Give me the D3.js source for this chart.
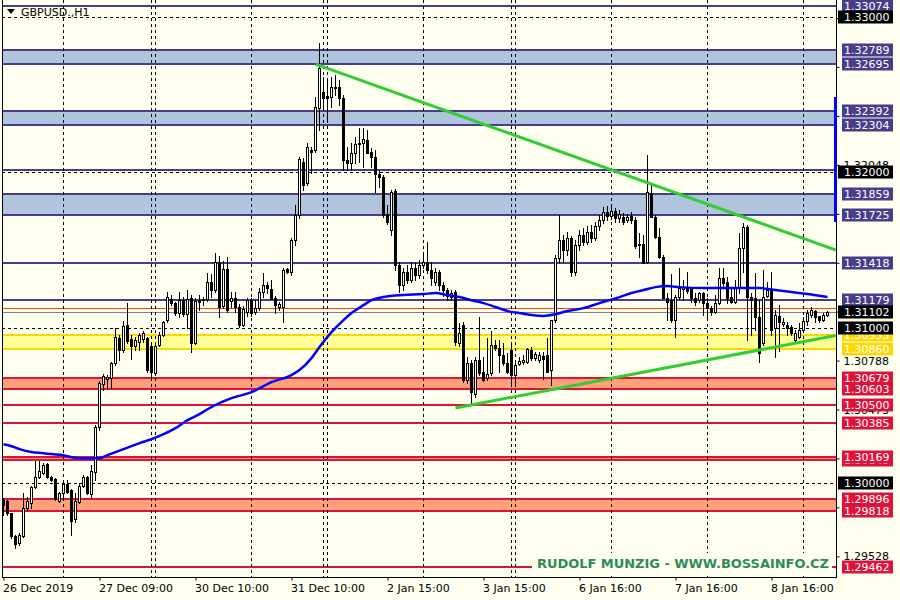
<!DOCTYPE html>
<html><head><meta charset="utf-8">
<script src="https://cdn.jsdelivr.net/npm/d3@7"></script>
<style>body{margin:0;background:#fffff0;} svg{display:block}</style>
</head><body><svg id="c" width="900" height="600"></svg>
<script>
// ---------------- DATA ----------------
const symbolTitle = "GBPUSD.,H1";
const watermark = "RUDOLF MUNZIG - WWW.BOSSAINFO.CZ";
const timeLabels = ["26 Dec 2019","27 Dec 09:00","30 Dec 10:00","31 Dec 10:00","2 Jan 15:00","3 Jan 15:00","6 Jan 16:00","7 Jan 16:00","8 Jan 16:00"];
const timeLabelIdx = [0,24,48,72,96,120,144,168,192];
const separatorIdx = [15,37,38,62,80,81,105,127,128,152,176,200];
const gridPrices = [1.33000,1.32000,1.31000,1.30000];
const axisPrices = [1.29528,1.29843,1.30158,1.30473,1.30788,1.31103,1.31418,1.31733,1.32048,1.32363,1.32678,1.32993];
const axisPricesShown = [1.29528,1.30158,1.30473,1.30788,1.32048];
const blueBands = [[1.32789,1.32695],[1.32392,1.32304],[1.31859,1.31725]];
const slateLines = [1.33074,1.32013,1.31418,1.31179];
const redBands = [[1.30679,1.30603],[1.30169,1.30149],[1.29896,1.29818]];
const redLines = [1.30500,1.30385,1.29462];
const yellowBands = [[1.30953,1.30860]];
const orangeLevel = 1.31125;
const bidPrice = 1.31102;
const rangeBar = [1.32485,1.31680];
const slateLabels = [1.33074,1.32789,1.32695,1.32392,1.32304,1.31859,1.31725,1.31418,1.31179];
const redLabels = [1.30679,1.30603,1.30500,1.30385,1.30149,1.30169,1.29896,1.29818,1.29462];
const goldLabels = [1.30953,1.30860];
const blackLabels = [1.33000,1.32000,1.31102,1.31000,1.30000];

const open = [1.29889,1.29883,1.29806,1.29658,1.29612,1.29658,1.29838,1.29870,1.29973,1.30038,1.30063,1.30121,1.30038,1.30025,1.29883,1.29935,1.29992,1.29954,1.29767,1.29877,1.29980,1.30038,1.29928,1.30070,1.30359,1.30637,1.30669,1.30675,1.30772,1.30933,1.30855,1.31016,1.30926,1.30881,1.30907,1.30926,1.30933,1.30881,1.30708,1.30888,1.30952,1.31049,1.31184,1.31158,1.31094,1.31177,1.31087,1.31191,1.30901,1.31177,1.31177,1.31184,1.31293,1.31242,1.31422,1.31139,1.31377,1.31171,1.31190,1.31133,1.31016,1.31100,1.31177,1.31100,1.31126,1.31229,1.31274,1.31248,1.31190,1.31133,1.31133,1.31377,1.31358,1.31564,1.31725,1.32066,1.31931,1.32143,1.32143,1.32414,1.32517,1.32491,1.32485,1.32549,1.32549,1.32478,1.32079,1.32060,1.32124,1.32182,1.32188,1.32208,1.32131,1.32098,1.31989,1.31970,1.31731,1.31628,1.31880,1.31403,1.31274,1.31358,1.31306,1.31384,1.31339,1.31403,1.31422,1.31371,1.31293,1.31358,1.31274,1.31242,1.31197,1.31229,1.30901,1.31016,1.30662,1.30772,1.30572,1.30791,1.30714,1.30675,1.30708,1.30888,1.30868,1.30823,1.30772,1.30855,1.30695,1.30765,1.30778,1.30778,1.30855,1.30804,1.30791,1.30817,1.30823,1.30727,1.31049,1.31448,1.31564,1.31499,1.31577,1.31358,1.31532,1.31596,1.31551,1.31615,1.31577,1.31654,1.31693,1.31744,1.31718,1.31750,1.31705,1.31712,1.31693,1.31718,1.31693,1.31538,1.31538,1.31422,1.31866,1.31712,1.31583,1.31454,1.31190,1.31177,1.31049,1.31197,1.31248,1.31261,1.31255,1.31190,1.31177,1.31223,1.31158,1.31126,1.31100,1.31158,1.31319,1.31293,1.31197,1.31165,1.31261,1.31512,1.31648,1.31197,1.31190,1.31068,1.30901,1.31203,1.31242,1.30997,1.31075,1.31023,1.31016,1.31004,1.30920,1.30939,1.30984,1.31042,1.31081,1.31107,1.31075,1.31049,1.31081];
const high = [1.29902,1.29889,1.29806,1.29664,1.29677,1.29935,1.29909,1.29980,1.30141,1.30141,1.30128,1.30128,1.30044,1.30031,1.29941,1.30018,1.30018,1.29960,1.29935,1.29999,1.30051,1.30044,1.30115,1.30372,1.30656,1.30701,1.30695,1.30778,1.30997,1.30952,1.31042,1.31158,1.30952,1.30939,1.30965,1.30978,1.30939,1.30888,1.30888,1.30971,1.31042,1.31229,1.31210,1.31165,1.31229,1.31197,1.31242,1.31210,1.31191,1.31210,1.31197,1.31351,1.31345,1.31480,1.31461,1.31429,1.31454,1.31229,1.31229,1.31152,1.31139,1.31190,1.31190,1.31177,1.31255,1.31351,1.31293,1.31306,1.31203,1.31165,1.31384,1.31384,1.31577,1.31789,1.32098,1.32092,1.32188,1.32162,1.32485,1.32832,1.32613,1.32594,1.32613,1.32626,1.32594,1.32498,1.32162,1.32188,1.32227,1.32285,1.32285,1.32272,1.32156,1.32143,1.32015,1.31983,1.31789,1.31886,1.31892,1.31422,1.31384,1.31403,1.31422,1.31416,1.31435,1.31467,1.31551,1.31422,1.31384,1.31371,1.31293,1.31255,1.31242,1.31242,1.31029,1.31036,1.30811,1.30791,1.30811,1.31068,1.30811,1.30933,1.30978,1.30920,1.30920,1.30901,1.30836,1.30888,1.30791,1.30811,1.30823,1.30868,1.30875,1.30843,1.30843,1.30843,1.30933,1.31049,1.31467,1.31725,1.31596,1.31615,1.31590,1.31564,1.31628,1.31641,1.31654,1.31660,1.31680,1.31725,1.31776,1.31783,1.31776,1.31770,1.31757,1.31738,1.31731,1.31744,1.31712,1.31609,1.31596,1.32111,1.31931,1.31725,1.31641,1.31467,1.31223,1.31345,1.31210,1.31384,1.31306,1.31358,1.31261,1.31223,1.31229,1.31229,1.31190,1.31139,1.31210,1.31384,1.31384,1.31326,1.31261,1.31306,1.31609,1.31673,1.31660,1.31223,1.31351,1.31177,1.31371,1.31293,1.31358,1.31113,1.31145,1.31062,1.31036,1.31016,1.30984,1.31029,1.31068,1.31113,1.31133,1.31113,1.31075,1.31094,1.31107];
const low = [1.29793,1.29793,1.29645,1.29580,1.29600,1.29651,1.29825,1.29838,1.29967,1.30031,1.30057,1.30031,1.30012,1.29889,1.29877,1.29889,1.29935,1.29664,1.29748,1.29870,1.29973,1.29928,1.29909,1.30018,1.30340,1.30598,1.30604,1.30611,1.30759,1.30791,1.30843,1.30900,1.30798,1.30855,1.30855,1.30907,1.30714,1.30682,1.30695,1.30881,1.30946,1.31036,1.31145,1.31081,1.31068,1.31075,1.30997,1.30843,1.30894,1.31113,1.31145,1.31171,1.31197,1.31229,1.31068,1.31126,1.31100,1.31133,1.31100,1.31004,1.31010,1.31075,1.31075,1.31087,1.31113,1.31197,1.31223,1.31190,1.31094,1.31113,1.31036,1.31351,1.31339,1.31532,1.31705,1.31886,1.31918,1.31996,1.32131,1.32272,1.32420,1.32337,1.32420,1.32498,1.32433,1.32015,1.32015,1.32015,1.32060,1.32066,1.32034,1.32137,1.32034,1.31873,1.31905,1.31712,1.31667,1.31596,1.31371,1.31229,1.31242,1.31287,1.31293,1.31306,1.31319,1.31384,1.31351,1.31274,1.31274,1.31242,1.31203,1.31177,1.31177,1.30888,1.30881,1.30650,1.30643,1.30514,1.30553,1.30695,1.30656,1.30662,1.30695,1.30855,1.30714,1.30759,1.30708,1.30643,1.30643,1.30759,1.30765,1.30772,1.30791,1.30791,1.30778,1.30669,1.30714,1.30630,1.31036,1.31422,1.31422,1.31467,1.31332,1.31339,1.31499,1.31532,1.31538,1.31551,1.31564,1.31628,1.31673,1.31693,1.31699,1.31680,1.31680,1.31667,1.31680,1.31673,1.31512,1.31454,1.31416,1.31416,1.31712,1.31577,1.31448,1.31190,1.31049,1.31036,1.30939,1.31184,1.31177,1.31223,1.31165,1.31145,1.31165,1.31081,1.31049,1.31081,1.31094,1.31152,1.31261,1.31158,1.31158,1.31158,1.31223,1.31358,1.30920,1.30952,1.30984,1.30778,1.30888,1.31197,1.30952,1.30811,1.30849,1.31010,1.30952,1.30952,1.30901,1.30933,1.30971,1.31016,1.31068,1.31036,1.31036,1.31042,1.31075];
const close = [1.29857,1.29806,1.29658,1.29606,1.29664,1.29838,1.29883,1.29973,1.30038,1.30076,1.30115,1.30038,1.30018,1.29896,1.29935,1.29992,1.29941,1.29754,1.29883,1.29980,1.30038,1.29935,1.30076,1.30359,1.30643,1.30688,1.30682,1.30772,1.30939,1.30855,1.31010,1.30913,1.30881,1.30920,1.30952,1.30965,1.30727,1.30714,1.30881,1.30952,1.31036,1.31197,1.31158,1.31094,1.31177,1.31087,1.31184,1.30901,1.31171,1.31165,1.31184,1.31293,1.31242,1.31422,1.31133,1.31377,1.31113,1.31190,1.31133,1.31016,1.31120,1.31177,1.31094,1.31126,1.31229,1.31274,1.31255,1.31184,1.31145,1.31152,1.31371,1.31358,1.31564,1.31725,1.32085,1.31918,1.32162,1.32131,1.32420,1.32672,1.32478,1.32478,1.32549,1.32543,1.32478,1.32079,1.32060,1.32124,1.32182,1.32188,1.32214,1.32124,1.32098,1.31989,1.31970,1.31725,1.31680,1.31873,1.31403,1.31274,1.31358,1.31306,1.31384,1.31339,1.31403,1.31422,1.31371,1.31319,1.31358,1.31274,1.31242,1.31203,1.31223,1.30907,1.30965,1.30662,1.30772,1.30584,1.30791,1.30708,1.30662,1.30701,1.30888,1.30868,1.30823,1.30772,1.30714,1.30695,1.30759,1.30785,1.30791,1.30862,1.30804,1.30830,1.30823,1.30798,1.30714,1.31049,1.31448,1.31564,1.31499,1.31577,1.31358,1.31532,1.31596,1.31551,1.31615,1.31577,1.31654,1.31693,1.31744,1.31718,1.31750,1.31705,1.31731,1.31680,1.31712,1.31693,1.31525,1.31532,1.31416,1.31873,1.31712,1.31583,1.31454,1.31190,1.31165,1.31049,1.31197,1.31255,1.31261,1.31235,1.31190,1.31165,1.31223,1.31158,1.31126,1.31100,1.31158,1.31319,1.31287,1.31190,1.31165,1.31261,1.31512,1.31648,1.31197,1.31177,1.31068,1.30836,1.31197,1.31242,1.30984,1.31081,1.31036,1.31036,1.30997,1.30965,1.30965,1.30984,1.31042,1.31094,1.31113,1.31068,1.31049,1.31081,1.31102];

const maIdx = [0,2,4,7,10,12,15,17,19,24,26,28,30,32,34,37,40,43,46,49,51,57,62,67,72,74,77,79,82,85,87,90,92,95,100,105,108,111,114,117,120,123,126,129,132,135,138,141,145,149,154,157,160,163,166,169,175,184,189,193,197,201,206];
const maVal = [1.30250,1.30237,1.30218,1.30199,1.30192,1.30186,1.30179,1.30166,1.30160,1.30160,1.30179,1.30199,1.30218,1.30237,1.30257,1.30282,1.30314,1.30353,1.30405,1.30443,1.30475,1.30546,1.30585,1.30649,1.30695,1.30727,1.30804,1.30875,1.30971,1.31049,1.31094,1.31145,1.31177,1.31197,1.31210,1.31216,1.31223,1.31210,1.31197,1.31177,1.31158,1.31133,1.31107,1.31094,1.31081,1.31075,1.31087,1.31107,1.31126,1.31158,1.31197,1.31223,1.31242,1.31261,1.31268,1.31261,1.31255,1.31255,1.31255,1.31242,1.31229,1.31216,1.31197];

const trendUpper = [[78,1.32697],[208.1,1.31500]];
const trendLower = [[113,1.30483],[208.1,1.30950]];

// ---------------- DRAW ----------------
const svg = d3.select("#c");
const plotL = 2, plotR = 836, plotB = 577;
const x = d3.scaleLinear().domain([0,207]).range([3.5,831.5]);
const y = d3.scaleLinear().domain([1.33,1.30]).range([17,483]);
const ry = v => Math.round(y(v));
const FONT = "DejaVu Sans, Tahoma, sans-serif";
const fmt = d3.format(".5f");

svg.append("rect").attr("width",900).attr("height",600).attr("fill","#fffff0");
svg.append("defs").append("clipPath").attr("id","plot")
  .append("rect").attr("x",plotL).attr("y",0).attr("width",plotR-plotL).attr("height",plotB);
const g = svg.append("g").attr("clip-path","url(#plot)");

function band(arr, fill, stroke){
  arr.forEach(([a,b])=>{
    const y1=ry(a), y2=ry(b);
    g.append("rect").attr("x",plotL).attr("width",plotR-plotL).attr("y",y1).attr("height",y2-y1).attr("fill",fill);
    [y1,y2].forEach(yy=>g.append("line").attr("x1",plotL).attr("x2",plotR).attr("y1",yy).attr("y2",yy)
      .attr("stroke",stroke).attr("stroke-width",2));
  });
}
function hline(v, stroke, w){
  const yy = w%2 ? ry(v)+0.5 : ry(v);
  g.append("line").attr("x1",plotL).attr("x2",plotR).attr("y1",yy).attr("y2",yy).attr("stroke",stroke).attr("stroke-width",w);
}
band(blueBands,"#b0c4de","#483d8b");
band(redBands,"#ffa07a","#dc143c");
band(yellowBands,"#ffff99","#ffd700");
slateLines.forEach(v=>hline(v,"#483d8b",2));
redLines.forEach(v=>hline(v,"#dc143c",2));
hline(orangeLevel,"#ff4500",1);
hline(bidPrice,"#808080",1);

// grid
gridPrices.forEach(v=>{
  const yy=ry(v)+0.5;
  g.append("line").attr("x1",plotL).attr("x2",plotR).attr("y1",yy).attr("y2",yy)
   .attr("stroke","#000").attr("stroke-dasharray","3,3");
});
separatorIdx.forEach(i=>{
  g.append("line").attr("x1",x(i)).attr("x2",x(i)).attr("y1",0).attr("y2",plotB)
   .attr("stroke","#000").attr("stroke-dasharray","3,3");
});

// candles
const idx = d3.range(open.length);
const cg = g.append("g");
cg.selectAll("line.wick").data(idx).join("line").attr("class","wick")
  .attr("x1",i=>x(i)).attr("x2",i=>x(i))
  .attr("y1",i=>ry(high[i])).attr("y2",i=>ry(low[i])+1)
  .attr("stroke","#000").attr("stroke-width",1);
cg.selectAll("rect.body").data(idx).join("rect").attr("class","body")
  .attr("x",i=>x(i)-1).attr("width",2)
  .attr("y",i=>Math.min(ry(open[i]),ry(close[i]))+0.5)
  .attr("height",i=>Math.max(0,Math.abs(ry(open[i])-ry(close[i]))))
  .attr("fill",i=>close[i]>=open[i]?"#ffffff":"#000000")
  .attr("stroke","#000").attr("stroke-width",1);

// moving average
g.append("path").datum(maIdx.map((d,k)=>[d,maVal[k]]))
  .attr("d",d3.line().x(d=>x(d[0])).y(d=>y(d[1])).curve(d3.curveMonotoneX))
  .attr("fill","none").attr("stroke","#0000ff").attr("stroke-width",2.5);

// trend lines
[trendUpper,trendLower].forEach(t=>{
  g.append("line").attr("x1",x(t[0][0])).attr("y1",y(t[0][1])).attr("x2",x(t[1][0])).attr("y2",y(t[1][1]))
   .attr("stroke","#32cd32").attr("stroke-width",3);
});

// watermark
svg.append("rect").attr("x",532).attr("y",553).attr("width",300).attr("height",21).attr("fill","#fffff0");
svg.append("text").attr("x",537).attr("y",568).attr("font-family",FONT).attr("font-weight","bold")
  .attr("font-size",13).attr("fill","#2e8b57").attr("textLength",292).text(watermark);

// borders
svg.append("line").attr("x1",plotL+0.5).attr("x2",plotL+0.5).attr("y1",0).attr("y2",plotB).attr("stroke","#000");
svg.append("line").attr("x1",plotR+0.5).attr("x2",plotR+0.5).attr("y1",0).attr("y2",plotB+1).attr("stroke","#000");
svg.append("line").attr("x1",plotL).attr("x2",plotR+1).attr("y1",plotB+0.5).attr("y2",plotB+0.5).attr("stroke","#000");

// range bar
svg.append("rect").attr("x",834).attr("width",3).attr("y",ry(rangeBar[0])).attr("height",ry(rangeBar[1])-ry(rangeBar[0])).attr("fill","#0000ff");

// time axis
const xAxis = d3.axisBottom(x).tickValues(timeLabelIdx).tickFormat((d,k)=>timeLabels[k]).tickSize(3).tickPadding(4);
const xa = svg.append("g").attr("transform",`translate(0,${plotB+0.5})`).call(xAxis);
xa.select(".domain").remove();
xa.selectAll("text").attr("text-anchor","start").attr("dx",-1).attr("font-family",FONT).attr("font-size",11).attr("fill","#000");

// price axis (plain scale labels; those fully covered by object labels are left blank)
const yAxis = d3.axisRight(y).tickValues(axisPrices)
  .tickFormat(d=>axisPricesShown.includes(d)?fmt(d):"").tickSize(3).tickPadding(4);
const ya = svg.append("g").attr("transform",`translate(${plotR+0.5},0)`).call(yAxis);
ya.select(".domain").remove();
ya.selectAll("text").attr("font-family",FONT).attr("font-size",11).attr("fill","#000").attr("x",7);

// price labels with boxes
function labels(arr, bg, x0){
  arr.forEach(v=>{
    const yy = ry(v);
    svg.append("rect").attr("x",x0).attr("y",yy-6.5).attr("width",893-x0).attr("height",13).attr("fill",bg);
    svg.append("text").attr("x",844).attr("y",yy+4).attr("font-family",FONT).attr("font-size",11)
      .attr("fill","#fff").text(fmt(v));
  });
}
labels(redLabels,"#dc143c",842);
labels(goldLabels,"#ffd700",842);
labels(slateLabels,"#483d8b",842);
labels(blackLabels,"#000000",838);

// title
svg.append("path").attr("d","M7,9 L15,9 L11,14 Z").attr("fill","#000");
svg.append("text").attr("x",21).attr("y",16).attr("font-family",FONT).attr("font-size",11).attr("fill","#000").text(symbolTitle);
</script></body></html>
